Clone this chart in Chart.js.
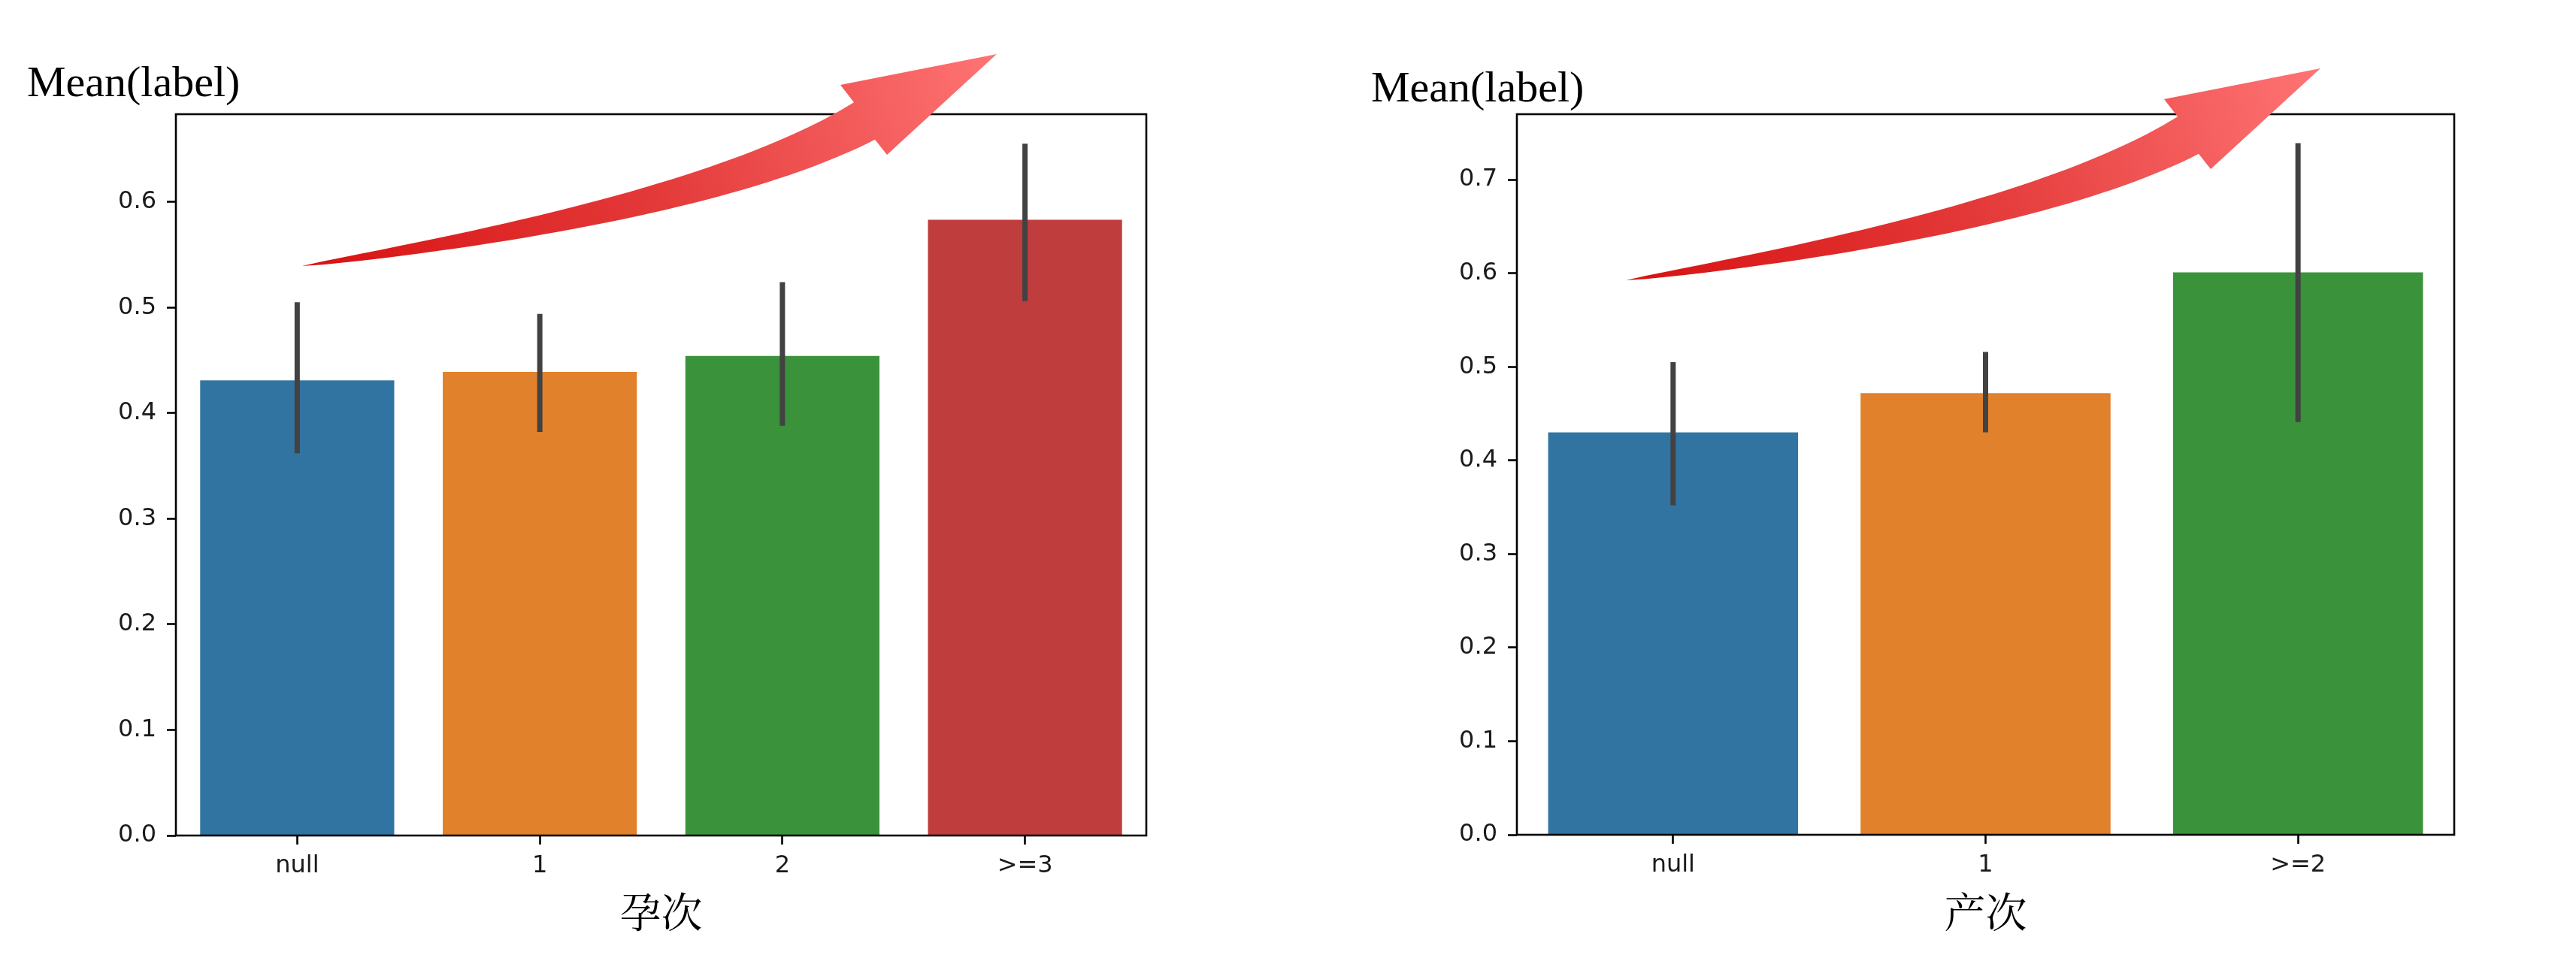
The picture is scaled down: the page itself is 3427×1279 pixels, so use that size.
<!DOCTYPE html>
<html>
<head>
<meta charset="utf-8">
<script src="https://cdn.jsdelivr.net/npm/chart.js@4.4.1/dist/chart.umd.min.js"></script>
<style>
  html, body { margin: 0; padding: 0; background: #fff; }
  #page { position: relative; width: 3427px; height: 1279px; overflow: hidden; background: #fff; }
  .panel { position: absolute; top: 0; height: 1279px; }
  #leftPanel { left: 0; width: 1713px; }
  #rightPanel { left: 1713px; width: 1714px; }
</style>
</head>
<body>
<div id="page">
  <div class="panel" id="leftPanel"><canvas id="gravidaChart"></canvas></div>
  <div class="panel" id="rightPanel"><canvas id="parityChart"></canvas></div>
</div>
<script>
// 孕次 panel
const gravidaLabels = ['null', '1', '2', '>=3'];
const gravidaMeans = [0.431, 0.439, 0.454, 0.583];
const gravidaLow = [0.362, 0.382, 0.388, 0.506];
const gravidaHigh = [0.505, 0.494, 0.524, 0.655];

// 产次 panel
const parityLabels = ['null', '1', '>=2'];
const parityMeans = [0.430, 0.472, 0.601];
const parityLow = [0.352, 0.430, 0.441];
const parityHigh = [0.505, 0.516, 0.739];

const barColors = ['#3274a1', '#e1812c', '#3a923a', '#c03d3e'];

const tickFont = { family: '"DejaVu Sans", sans-serif', size: 32 };
const serifFont = '"Times New Roman", "Liberation Serif", serif';
const cjkFont = '"Noto Serif CJK SC", "Noto Sans CJK SC", sans-serif';

// red "rising" arrow, points given relative to its tail
function drawArrow(ctx, ox, oy) {
    const C = { x: 544, y: -78 };
    const E = { x: 748, y: -193 };
    const c1 = { x: 716, y: -241 };
    const tip = { x: 924, y: -282 };
    const c2 = { x: 778, y: -148 };
    const endW = 57;
    const n = 40;
    const upper = [], lower = [];
    for (let i = 0; i <= n; i++) {
        const t = i / n;
        const px = 2 * (1 - t) * t * C.x + t * t * E.x;
        const py = 2 * (1 - t) * t * C.y + t * t * E.y;
        let dx = 2 * (1 - t) * C.x + 2 * t * (E.x - C.x);
        let dy = 2 * (1 - t) * C.y + 2 * t * (E.y - C.y);
        const len = Math.hypot(dx, dy);
        dx /= len; dy /= len;
        const w = endW * Math.pow(t, 0.7) / 2;
        upper.push([px + dy * w, py - dx * w]);
        lower.push([px - dy * w, py + dx * w]);
    }
    ctx.save();
    ctx.translate(ox, oy);
    const grad = ctx.createLinearGradient(0, 0, tip.x, tip.y);
    grad.addColorStop(0, '#d81212');
    grad.addColorStop(0.5, '#e43a3a');
    grad.addColorStop(1, '#ff7474');
    ctx.fillStyle = grad;
    ctx.beginPath();
    ctx.moveTo(0, 0);
    upper.forEach(p => ctx.lineTo(p[0], p[1]));
    ctx.lineTo(c1.x, c1.y);
    ctx.lineTo(tip.x, tip.y);
    ctx.lineTo(c2.x, c2.y);
    for (let i = lower.length - 1; i >= 0; i--) ctx.lineTo(lower[i][0], lower[i][1]);
    ctx.closePath();
    ctx.fill();
    ctx.restore();
}

const decorPlugin = {
    id: 'decor',
    afterDatasetsDraw(chart, args, opts) {
        const ctx = chart.ctx;
        const y = chart.scales.y;
        const meta = chart.getDatasetMeta(0);
        const area = chart.chartArea;
        ctx.save();
        // error bars
        ctx.strokeStyle = '#424242';
        ctx.lineWidth = 7;
        ctx.lineCap = 'butt';
        opts.low.forEach((lo, i) => {
            const x = meta.data[i].x;
            ctx.beginPath();
            ctx.moveTo(x, y.getPixelForValue(lo));
            ctx.lineTo(x, y.getPixelForValue(opts.high[i]));
            ctx.stroke();
        });
        // axes frame
        ctx.strokeStyle = '#000';
        ctx.lineWidth = 2.6;
        ctx.strokeRect(area.left, area.top, area.right - area.left, area.bottom - area.top);
        ctx.restore();
    },
    afterDraw(chart, args, opts) {
        const ctx = chart.ctx;
        const area = chart.chartArea;
        ctx.save();
        ctx.fillStyle = '#000';
        ctx.font = '58px ' + serifFont;
        ctx.textBaseline = 'alphabetic';
        ctx.textAlign = 'left';
        ctx.fillText('Mean(label)', area.left + opts.labelDx, area.top + opts.labelDy);
        ctx.restore();
        drawArrow(ctx, area.left + opts.arrowDx, area.top + opts.arrowDy);
    }
};

function makeChart(canvasId, labels, means, low, high, title, yMax, yWidth, xHeight, padRight, decor) {
    const ctx = document.getElementById(canvasId).getContext('2d');
    return new Chart(ctx, {
        type: 'bar',
        data: {
            labels: labels,
            datasets: [{
                data: means,
                backgroundColor: labels.map((_, i) => barColors[i % barColors.length]),
                borderWidth: 0,
                categoryPercentage: 1.0,
                barPercentage: 0.8
            }]
        },
        options: {
            responsive: true,
            maintainAspectRatio: false,
            animation: false,
            layout: { padding: { top: 152, right: padRight, left: 0, bottom: 0 } },
            plugins: {
                legend: { display: false },
                tooltip: { enabled: false },
                decor: Object.assign({ low: low, high: high }, decor)
            },
            scales: {
                x: {
                    offset: true,
                    grid: {
                        display: true, offset: false, drawOnChartArea: false,
                        tickLength: 12, tickWidth: 2.6, tickColor: '#000'
                    },
                    border: { display: false },
                    ticks: { color: '#1a1a1a', font: tickFont, padding: 9 },
                    title: {
                        display: true, text: title, color: '#000',
                        font: { family: cjkFont, size: 55 },
                        padding: { top: 0, bottom: 33 }
                    },
                    afterFit: s => { s.height = xHeight; }
                },
                y: {
                    min: 0,
                    max: yMax,
                    grid: {
                        display: true, drawOnChartArea: false,
                        tickLength: 12, tickWidth: 2.6, tickColor: '#000'
                    },
                    border: { display: false },
                    ticks: {
                        stepSize: 0.1, includeBounds: false, color: '#1a1a1a', font: tickFont, padding: 14,
                        callback: v => v.toFixed(1)
                    },
                    afterFit: s => { s.width = yWidth; }
                }
            }
        },
        plugins: [decorPlugin]
    });
}

makeChart('gravidaChart', gravidaLabels, gravidaMeans, gravidaLow, gravidaHigh, '孕次',
    0.683, 234, 167, 188, { labelDx: -198, labelDy: -24, arrowDx: 168, arrowDy: 202 });
makeChart('parityChart', parityLabels, parityMeans, parityLow, parityHigh, '产次',
    0.770, 305, 168, 162, { labelDx: -194, labelDy: -17, arrowDx: 145, arrowDy: 221 });
</script>
</body>
</html>
